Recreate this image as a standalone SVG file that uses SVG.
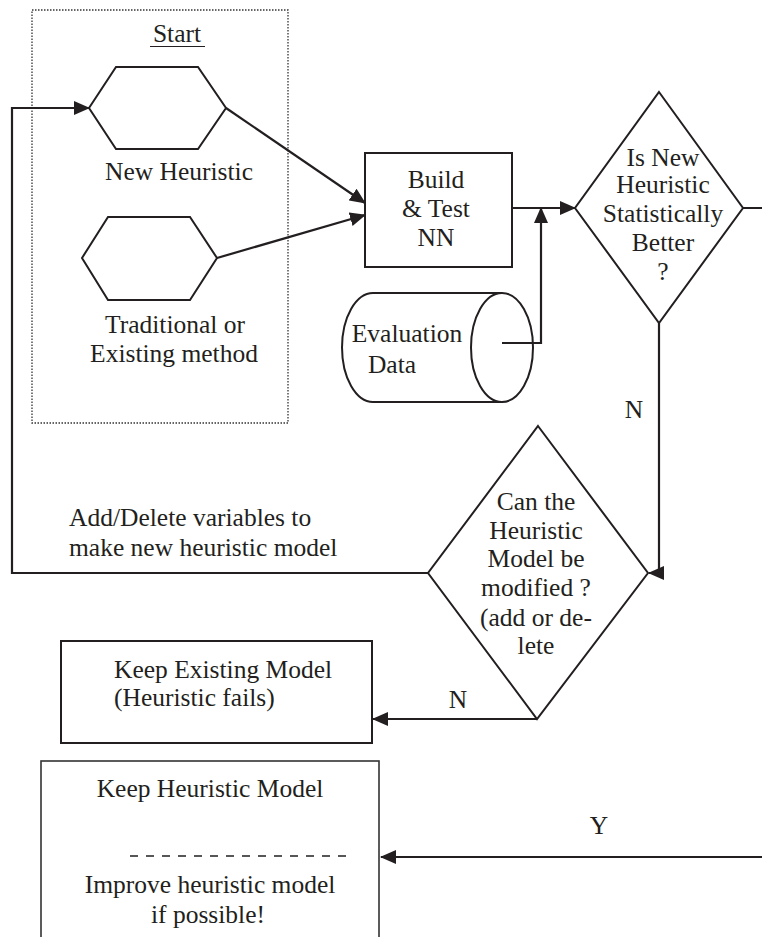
<svg xmlns="http://www.w3.org/2000/svg" width="762" height="937" viewBox="0 0 762 937">
<style>
text{font-family:"Liberation Serif","Times New Roman",serif;font-size:25.5px;fill:#231f20}
.c{text-anchor:middle}
.shape{fill:#fff;stroke:#231f20;stroke-width:2}
.conn{fill:none;stroke:#231f20;stroke-width:2.2}
</style>
<defs>
<marker id="arr" markerUnits="userSpaceOnUse" markerWidth="16" markerHeight="14" viewBox="0 0 16 14" refX="15" refY="7" orient="auto">
<path d="M0,0 L16,7 L0,14 Z" fill="#231f20"/>
</marker>
</defs>
<rect id="startbox" x="32" y="10" width="256" height="413" fill="none" stroke="#333" stroke-width="1.3" stroke-dasharray="1.5 1.5"/>
<g id="start-label">
<text class="c" x="177" y="42">Start</text>
<line x1="150" y1="46.5" x2="205" y2="46.5" stroke="#231f20" stroke-width="1.2"/>
</g>
<g id="connectors">
<path class="conn" d="M226,108 L365,203" marker-end="url(#arr)"/>
<path class="conn" d="M217,258 L365,215" marker-end="url(#arr)"/>
<path class="conn" d="M512,208 H575" marker-end="url(#arr)"/>
<path class="conn" d="M497,343 H541 V208" marker-end="url(#arr)"/>
<path class="conn" d="M659,323 V573 H649" marker-end="url(#arr)"/>
<path class="conn" d="M428,573 H12 V108 H89" marker-end="url(#arr)"/>
<path class="conn" d="M537,719 H373" marker-end="url(#arr)"/>
<path class="conn" d="M743,208 H780 V857 H381" marker-end="url(#arr)"/>
<text class="c" x="634" y="418">N</text>
<text class="c" x="458" y="708">N</text>
<text class="c" x="599" y="834">Y</text>
<text x="69" y="526">Add/Delete variables to</text>
<text x="69" y="556">make new heuristic model</text>
</g>
<g id="new-heuristic">
<polygon class="shape" points="89,108 116,67 198,67 226,108 198,149 116,149"/>
<text class="c" x="179" y="180">New Heuristic</text>
</g>
<g id="traditional">
<polygon class="shape" points="82,258 108,217 190,217 217,258 190,300 108,300"/>
<text class="c" x="175" y="333">Traditional or</text>
<text class="c" x="174" y="362">Existing method</text>
</g>
<g id="build-test">
<rect class="shape" x="365" y="153" width="147" height="114"/>
<text class="c" x="436" y="188">Build</text>
<text class="c" x="436" y="217">&amp; Test</text>
<text class="c" x="436" y="246">NN</text>
</g>
<g id="evaluation-data">
<path fill="#fff" d="M373,293 H502 V402 H373 A31,54.5 0 0 1 373,293 Z"/>
<path fill="none" stroke="#231f20" stroke-width="2" d="M502,293 H373 A31,54.5 0 0 0 373,402 H502"/>
<ellipse cx="502" cy="347.5" rx="31" ry="54.5" fill="none" stroke="#231f20" stroke-width="2"/>
<text class="c" x="407" y="342">Evaluation</text>
<text class="c" x="392" y="373">Data</text>
</g>
<g id="is-better">
<polygon class="shape" points="659,92 743,208 659,323 575,208"/>
<text class="c" x="663" y="166">Is New</text>
<text class="c" x="663" y="193">Heuristic</text>
<text class="c" x="663" y="222">Statistically</text>
<text class="c" x="663" y="251">Better</text>
<text class="c" x="663" y="280">?</text>
</g>
<g id="can-modify">
<polygon class="shape" points="538,426 648,573 537,719 428,573"/>
<text class="c" x="536" y="510">Can the</text>
<text class="c" x="536" y="539">Heuristic</text>
<text class="c" x="536" y="567">Model be</text>
<text class="c" x="536" y="596">modified ?</text>
<text class="c" x="536" y="626">(add or de-</text>
<text class="c" x="536" y="654">lete</text>
</g>
<g id="keep-existing">
<rect class="shape" x="61" y="641" width="311" height="102"/>
<text x="114" y="678">Keep Existing Model</text>
<text x="114" y="706">(Heuristic fails)</text>
</g>
<g id="keep-heuristic">
<rect x="41" y="761" width="338" height="200" fill="#fff" stroke="#333" stroke-width="1.6"/>
<text class="c" x="210" y="797">Keep Heuristic Model</text>
<line x1="130" y1="856" x2="352" y2="856" stroke="#231f20" stroke-width="1.6" stroke-dasharray="8 8"/>
<text class="c" x="210" y="893">Improve heuristic model</text>
<text class="c" x="208" y="923">if possible!</text>
</g>
</svg>
